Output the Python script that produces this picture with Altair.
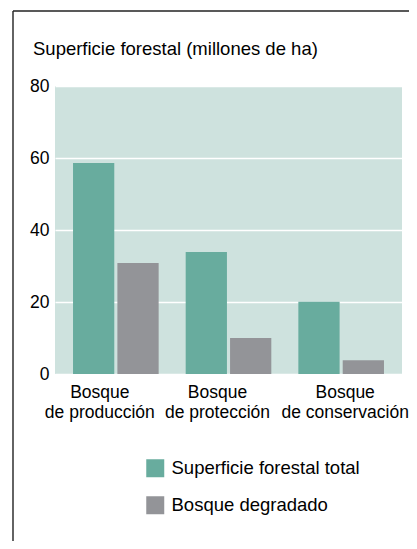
import altair as alt
import pandas as pd

categories = ["Bosque\nde producción", "Bosque\nde protección", "Bosque\nde conservación"]
series = ["Superficie forestal total", "Bosque degradado"]
total_vals = [58.6, 33.9, 20.1]
degradado_vals = [30.8, 10.0, 3.8]
colors = ["#68ac9e", "#939498"]
title_text = "Superficie forestal (millones de ha)"
y_ticks = [0, 20, 40, 60, 80]

rows = []
for c, t, d in zip(categories, total_vals, degradado_vals):
    rows.append({"cat": c, "serie": series[0], "valor": t})
    rows.append({"cat": c, "serie": series[1], "valor": d})
df = pd.DataFrame(rows)

FONT = "Liberation Sans"

label_shift = ("indexof(datum.value, 'producci') >= 0 ? -16 : "
               "(indexof(datum.value, 'protecci') >= 0 ? -11 : 4)")

bars = alt.Chart(df).mark_bar().encode(
    x=alt.X("cat:N", sort=categories,
            scale=alt.Scale(paddingInner=0.24, paddingOuter=0.16),
            axis=alt.Axis(title=None, labelAngle=0, domain=False, ticks=False,
                          labelFontSize=17.5, labelColor="#000", labelPadding=9,
                          labelLineHeight=20, labelFont=FONT, labelLimit=300,
                          labelOffset=alt.ExprRef(expr=label_shift),
                          labelExpr="split(datum.label, '\\n')")),
    xOffset=alt.XOffset("serie:N", sort=series, scale=alt.Scale(paddingInner=0.07)),
    y=alt.Y("valor:Q", scale=alt.Scale(domain=[0, 80]),
            axis=alt.Axis(title=None, values=y_ticks, domain=False, ticks=False,
                          labelFontSize=17.5, labelColor="#000", labelPadding=6,
                          labelFont=FONT, grid=True, gridColor="white",
                          gridWidth=1.5)),
    color=alt.Color("serie:N", sort=series,
                    scale=alt.Scale(domain=series, range=colors),
                    legend=alt.Legend(title=None, orient="none", legendX=91, legendY=373,
                                      symbolType="square", symbolSize=324,
                                      symbolStrokeWidth=0, labelFontSize=18.5,
                                      labelFont=FONT, labelColor="#000", labelLimit=300,
                                      labelOffset=7, rowPadding=18, padding=0)),
)

one = pd.DataFrame({"t": [title_text]})
title = alt.Chart(one).mark_text(align="left", baseline="alphabetic", fontSize=18.5,
                                 font=FONT, color="#000").encode(
    x=alt.value(-22), y=alt.value(-31), text="t:N")

frame_left = alt.Chart(one).mark_rule(color="#222", strokeWidth=1.4).encode(
    x=alt.value(-42), y=alt.value(-75), y2=alt.value(470))
frame_top = alt.Chart(one).mark_rule(color="#222", strokeWidth=1.4).encode(
    x=alt.value(-42), x2=alt.value(400), y=alt.value(-75))

chart = alt.layer(bars, title, frame_left, frame_top).properties(
    width=347, height=288,
    autosize=alt.AutoSizeParams(type="none"),
    padding={"left": 47, "top": 78, "right": 7, "bottom": 167},
).configure_view(fill="#cee2de", stroke=None)

chart.save("out.html", embed_options={"renderer": "svg", "actions": False})
